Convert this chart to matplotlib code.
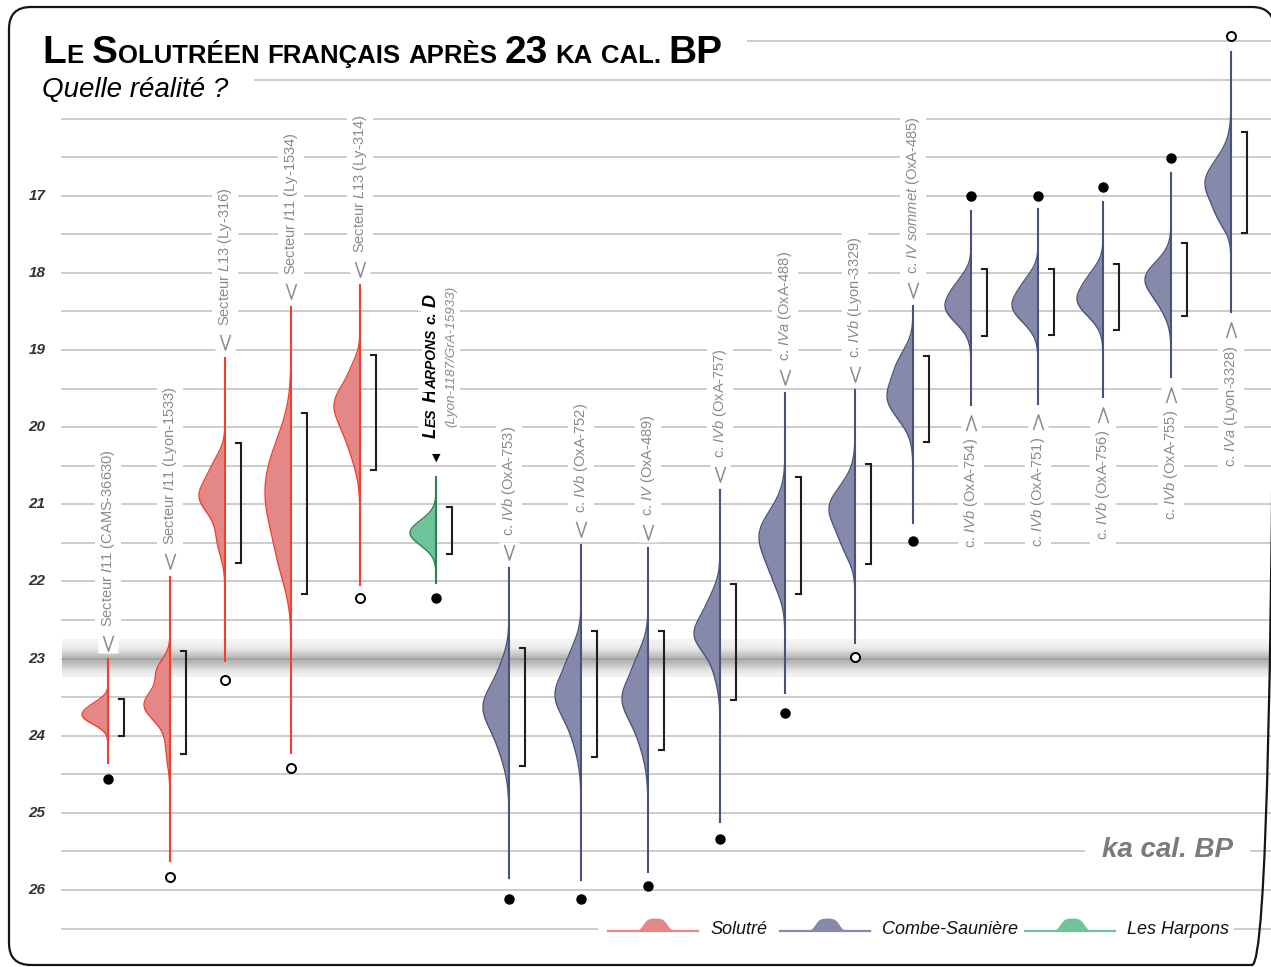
import numpy as np
import matplotlib
matplotlib.use('Agg')
import matplotlib.pyplot as plt
from matplotlib.patches import FancyBboxPatch, Rectangle
from matplotlib.path import Path
from matplotlib.transforms import offset_copy

plt.rcParams['font.family'] = ['Liberation Sans', 'DejaVu Sans']
plt.rcParams['mathtext.fontset'] = 'custom'
plt.rcParams['mathtext.rm'] = 'Liberation Sans'
plt.rcParams['mathtext.it'] = 'Liberation Sans:italic'
plt.rcParams['mathtext.bf'] = 'Liberation Sans:bold'

# Dates calibrées (ka cal. BP)
sites = ['Solutré'] * 5 + ['Les Harpons'] + ['Combe-Saunière'] * 12
prefixes = ['Secteur'] * 5 + ['c.'] * 13
layers = ['I11', 'I11', 'L13', 'I11', 'L13', 'D',
          'IVb', 'IVb', 'IV', 'IVb', 'IVa', 'IVb', 'IV sommet',
          'IVb', 'IVb', 'IVb', 'IVb', 'IVa']
lab_codes = ['CAMS-36630', 'Lyon-1533', 'Ly-316', 'Ly-1534', 'Ly-314', 'Lyon-1187/GrA-15933',
             'OxA-753', 'OxA-752', 'OxA-489', 'OxA-757', 'OxA-488', 'Lyon-3329', 'OxA-485',
             'OxA-754', 'OxA-751', 'OxA-756', 'OxA-755', 'Lyon-3328']
range_top = [23.00, 21.94, 19.10, 18.44, 18.16, 20.65, 21.83, 21.53, 21.57, 20.81,
             19.56, 19.52, 18.43, 17.20, 17.17, 17.08, 16.71, 15.14]
range_bottom = [24.35, 25.62, 23.03, 24.22, 22.05, 22.02, 25.85, 25.87, 25.77, 25.12,
                23.45, 22.80, 21.24, 19.71, 19.70, 19.61, 19.35, 18.51]
sigma_top = [23.52, 22.90, 20.21, 19.82, 19.06, 21.03, 22.86, 22.64, 22.64, 22.03,
             20.65, 20.48, 19.08, 17.95, 17.95, 17.89, 17.61, 16.18]
sigma_bottom = [24.00, 24.24, 21.76, 22.16, 20.55, 21.65, 24.39, 24.28, 24.18, 23.54,
                22.16, 21.78, 20.19, 18.82, 18.81, 18.74, 18.56, 17.49]
dot_ka = [24.56, 25.83, 23.28, 24.42, 22.22, 22.22, 26.12, 26.12, 25.95, 25.34,
          23.71, 22.98, 21.48, 17.00, 17.00, 16.89, 16.51, 14.93]
dot_open = [False, True, True, True, True, False, False, False, False, False,
            False, True, False, False, False, False, False, True]
label_below = [False] * 13 + [True] * 5
# composantes (centre, écart, poids) des densités
density_parts = [
    [(23.74, 0.11, 1.0), (23.58, 0.08, 0.25)],
    [(23.60, 0.20, 1.0), (23.15, 0.15, 0.45), (24.15, 0.22, 0.15)],
    [(20.90, 0.22, 1.0), (20.50, 0.18, 0.35), (21.45, 0.22, 0.3)],
    [(20.50, 0.45, 0.8), (21.10, 0.40, 0.7), (21.75, 0.35, 0.4)],
    [(19.68, 0.28, 1.0), (20.20, 0.30, 0.4), (19.20, 0.14, 0.12)],
    [(21.37, 0.16, 1.0)],
    [(23.60, 0.28, 1.0), (24.10, 0.30, 0.35), (23.10, 0.22, 0.2)],
    [(23.45, 0.28, 1.0), (22.95, 0.22, 0.3), (23.95, 0.30, 0.3)],
    [(23.50, 0.28, 1.0), (23.00, 0.22, 0.3), (24.00, 0.30, 0.3)],
    [(22.70, 0.22, 1.0), (22.30, 0.22, 0.4), (23.15, 0.22, 0.2)],
    [(21.40, 0.32, 1.0), (21.95, 0.25, 0.3)],
    [(21.05, 0.28, 1.0), (21.55, 0.20, 0.3)],
    [(19.62, 0.27, 1.0), (19.15, 0.20, 0.4)],
    [(18.44, 0.21, 1.0), (18.12, 0.15, 0.25)],
    [(18.43, 0.21, 1.0), (18.10, 0.15, 0.25)],
    [(18.35, 0.21, 1.0), (18.02, 0.15, 0.25)],
    [(18.06, 0.21, 1.0), (18.40, 0.20, 0.3)],
    [(16.84, 0.30, 1.0), (17.30, 0.15, 0.2)],
]
ka_ticks = list(range(17, 27))
legend_sites = ['Solutré', 'Combe-Saunière', 'Les Harpons']

# mise en page (pixels)
col_x = [108, 170, 225, 291, 360, 436, 509, 581, 648, 720, 785, 855, 913, 971, 1038, 1103, 1171, 1231]
W, H = 1271, 967
Y17, PX_KA = 195.7, 77.14
fill_c = {'Solutré': '#e38787', 'Combe-Saunière': '#8789ab', 'Les Harpons': '#6fc39b'}
edge_c = {'Solutré': '#ef4130', 'Combe-Saunière': '#47537a', 'Les Harpons': '#2f8150'}
label_gray = '#8a8a8a'
grid_gray = '#cccccc'

chevron_down = Path([(-0.33, 0.5), (0, -0.5), (0.33, 0.5)], [Path.MOVETO, Path.LINETO, Path.LINETO])
chevron_up = Path([(-0.33, -0.5), (0, 0.5), (0.33, -0.5)], [Path.MOVETO, Path.LINETO, Path.LINETO])


def small_caps(axis, text, xy, big, small, rotated=False, first_offset=(0, 0), word_gap=5.0, **kw):
    runs = []
    for w, word in enumerate(text.split(' ')):
        size = big
        for ch in word:
            if ch.isalpha():
                size = small if ch.islower() else big
            elif ch.isdigit():
                size = big
            if runs and runs[-1][1] == size and runs[-1][2] == w:
                runs[-1][0] += ch.upper()
            else:
                runs.append([ch.upper(), size, w])
    prev, prev_w = None, 0
    rot = dict(rotation=90, rotation_mode='anchor') if rotated else {}
    for s, size, w in runs:
        if prev is None:
            t = axis.annotate(s, xy=xy, xytext=first_offset, textcoords='offset points',
                              ha='left', va='baseline', size=size, **rot, **kw)
        else:
            off = word_gap if w != prev_w else 0.6
            if rotated:
                t = axis.annotate(s, xy=(xy[0], 1), xycoords=(axis.transData, prev),
                                  xytext=(first_offset[0], off), textcoords='offset points',
                                  ha='left', va='baseline', size=size, **rot, **kw)
            else:
                t = axis.annotate(s, xy=(1, xy[1]), xycoords=(prev, 'data'),
                                  xytext=(off, 0), textcoords='offset points',
                                  ha='left', va='baseline', size=size, **kw)
        prev, prev_w = t, w
    return prev


fig = plt.figure(figsize=(W / 100, H / 100), dpi=100)
ax = fig.add_axes([0, 0, 1, 1])
deco = fig.add_axes([0, 0, 1, 1], zorder=5)
deco.set_xlim(0, W)
deco.set_ylim(H, 0)
deco.axis('off')

# grille
for g in np.arange(15.0, 26.51, 0.5):
    x_start = 748 if g == 15.0 else (255 if g == 15.5 else 62)
    ax.plot([x_start, W], [g, g], color=grid_gray, lw=1.4, zorder=0.5)
for v in ka_ticks:
    ax.text(37, v, str(v), ha='center', va='center', style='italic', weight='bold',
            size=11, color='#333333')

# bande grise autour de 23 ka
t = np.linspace(0, 1, 80)[:, None]
band = np.zeros((80, 2, 4))
band[..., :3] = 0.55
band[..., 3] = (0.10 + 0.55 * np.exp(-((t - 0.55) / 0.24) ** 2))
ax.imshow(band, extent=[62, W, 23.24, 22.75], aspect='auto', interpolation='bilinear', zorder=1)

up16 = offset_copy(ax.transData, fig=fig, x=0, y=16, units='dots')
down18 = offset_copy(ax.transData, fig=fig, x=0, y=-18, units='dots')

# densités, intervalles, points
for i in range(len(sites)):
    x0 = col_x[i]
    fc, ec = fill_c[sites[i]], edge_c[sites[i]]
    yy = np.linspace(range_top[i], range_bottom[i], 500)
    dens = sum(w * np.exp(-0.5 * ((yy - c) / s) ** 2) for c, s, w in density_parts[i])
    width = 26 * dens / dens.max()
    ax.fill_betweenx(yy, x0 - width, x0, color=fc, lw=0, zorder=3)
    ax.plot(x0 - width, yy, color=ec, lw=1.0, zorder=4)
    ax.plot([x0, x0], [range_top[i], range_bottom[i]], color=ec, lw=1.5, zorder=4)
    ax.plot([x0 + 11, x0 + 16, x0 + 16, x0 + 11], [sigma_top[i], sigma_top[i], sigma_bottom[i], sigma_bottom[i]],
            color='#1e1e1e', lw=1.5, solid_joinstyle='miter', zorder=5)
    if dot_open[i]:
        ax.plot(x0, dot_ka[i], 'o', ms=6.5, mfc='white', mec='black', mew=1.4, zorder=6)
    else:
        ax.plot(x0, dot_ka[i], 'o', ms=6.5, mfc='black', mec='black', zorder=6)

    if sites[i] == 'Les Harpons':
        continue
    lay = layers[i].replace(' ', r'\ ')
    txt = prefixes[i] + ' $\\mathit{' + lay + '}$ (' + lab_codes[i] + ')'
    box = dict(boxstyle='square,pad=0.3', fc='white', ec='none')
    if label_below[i]:
        ax.plot(x0, range_bottom[i], marker='s', ms=14, mfc='white', mec='none', transform=down18, zorder=2)
        ax.plot(x0, range_bottom[i], marker=chevron_up, ms=11, mfc='none', mec=label_gray, mew=1.1,
                transform=down18, zorder=2.5)
        ax.annotate(txt, xy=(x0, range_bottom[i]), xytext=(0, -24), textcoords='offset points',
                    rotation=90, ha='center', va='top', size=10.5, color=label_gray, bbox=box, zorder=2)
    else:
        ax.plot(x0, range_top[i], marker='s', ms=14, mfc='white', mec='none', transform=up16, zorder=2)
        ax.plot(x0, range_top[i], marker=chevron_down, ms=11, mfc='none', mec=label_gray, mew=1.1,
                transform=up16, zorder=2.5)
        ax.annotate(txt, xy=(x0, range_top[i]), xytext=(0, 23), textcoords='offset points',
                    rotation=90, ha='center', va='bottom', size=10.5, color=label_gray, bbox=box, zorder=2)

# étiquette Les Harpons
h = sites.index('Les Harpons')
xh = col_x[h]
ax.annotate('▼', xy=(xh, range_top[h]), xytext=(0, 14), textcoords='offset points',
            ha='center', va='center', size=8, family='DejaVu Sans', color='black')
box = dict(boxstyle='square,pad=0.25', fc='white', ec='none')
last = small_caps(ax, sites[h], (xh, range_top[h]), 13, 10, rotated=True, first_offset=(0, 28),
                  word_gap=4.0, weight='bold', style='italic', color='black', bbox=box, zorder=2)
last = ax.annotate(prefixes[h], xy=(xh, 1), xycoords=(ax.transData, last), xytext=(0, 4),
                   textcoords='offset points', rotation=90, rotation_mode='anchor', ha='left',
                   va='baseline', size=11, weight='bold', style='italic', bbox=box, zorder=2)
ax.annotate(layers[h], xy=(xh, 1), xycoords=(ax.transData, last), xytext=(0, 3),
            textcoords='offset points', rotation=90, rotation_mode='anchor', ha='left',
            va='baseline', size=13, weight='bold', style='italic', bbox=box, zorder=2)
ax.annotate('(' + lab_codes[h] + ')', xy=(xh, range_top[h]), xytext=(13, 36), textcoords='offset points',
            rotation=90, rotation_mode='anchor', ha='left', va='baseline', size=9.7,
            style='italic', color=label_gray, bbox=box, zorder=2)

ax.set_xlim(0, W)
ax.set_ylim(17 + (H - Y17) / PX_KA, 17 - Y17 / PX_KA)
ax.axis('off')

# cadre, titres
deco.add_patch(FancyBboxPatch((9, 7), 1265, 958, boxstyle='round,pad=0,rounding_size=22',
                              fc='none', ec='#151515', lw=1.6))
small_caps(deco, 'Le Solutréen français après 23 ka cal. BP', (42, 63), 28, 18.5,
           word_gap=5.5, weight='bold', color='black')
deco.text(42, 97, 'Quelle réalité ?', style='italic', size=20, ha='left', va='baseline', color='black')

deco.add_patch(Rectangle((1085, 845), 165, 10, fc='white', ec='none'))
deco.text(1167, 850, 'ka cal. BP', ha='center', va='center', size=20, weight='bold',
          style='italic', color='#7b7b7b')

# légende
deco.add_patch(Rectangle((598, 923), 636, 12, fc='white', ec='none'))
bx = np.linspace(-22, 22, 120)
bh = 13 / (1 + np.exp((np.abs(bx) - 12) / 2.2))
for name, lx in zip(legend_sites, [608, 780, 1025]):
    deco.plot([lx, lx + 90], [931, 931], color=fill_c[name], lw=1.6)
    deco.fill_between(lx + 47 + bx, 931, 931 - bh, color=fill_c[name], lw=0)
    deco.text(lx + 102, 929, name, style='italic', size=13, ha='left', va='center', color='#111111')

fig.savefig('out.png', dpi=100)
